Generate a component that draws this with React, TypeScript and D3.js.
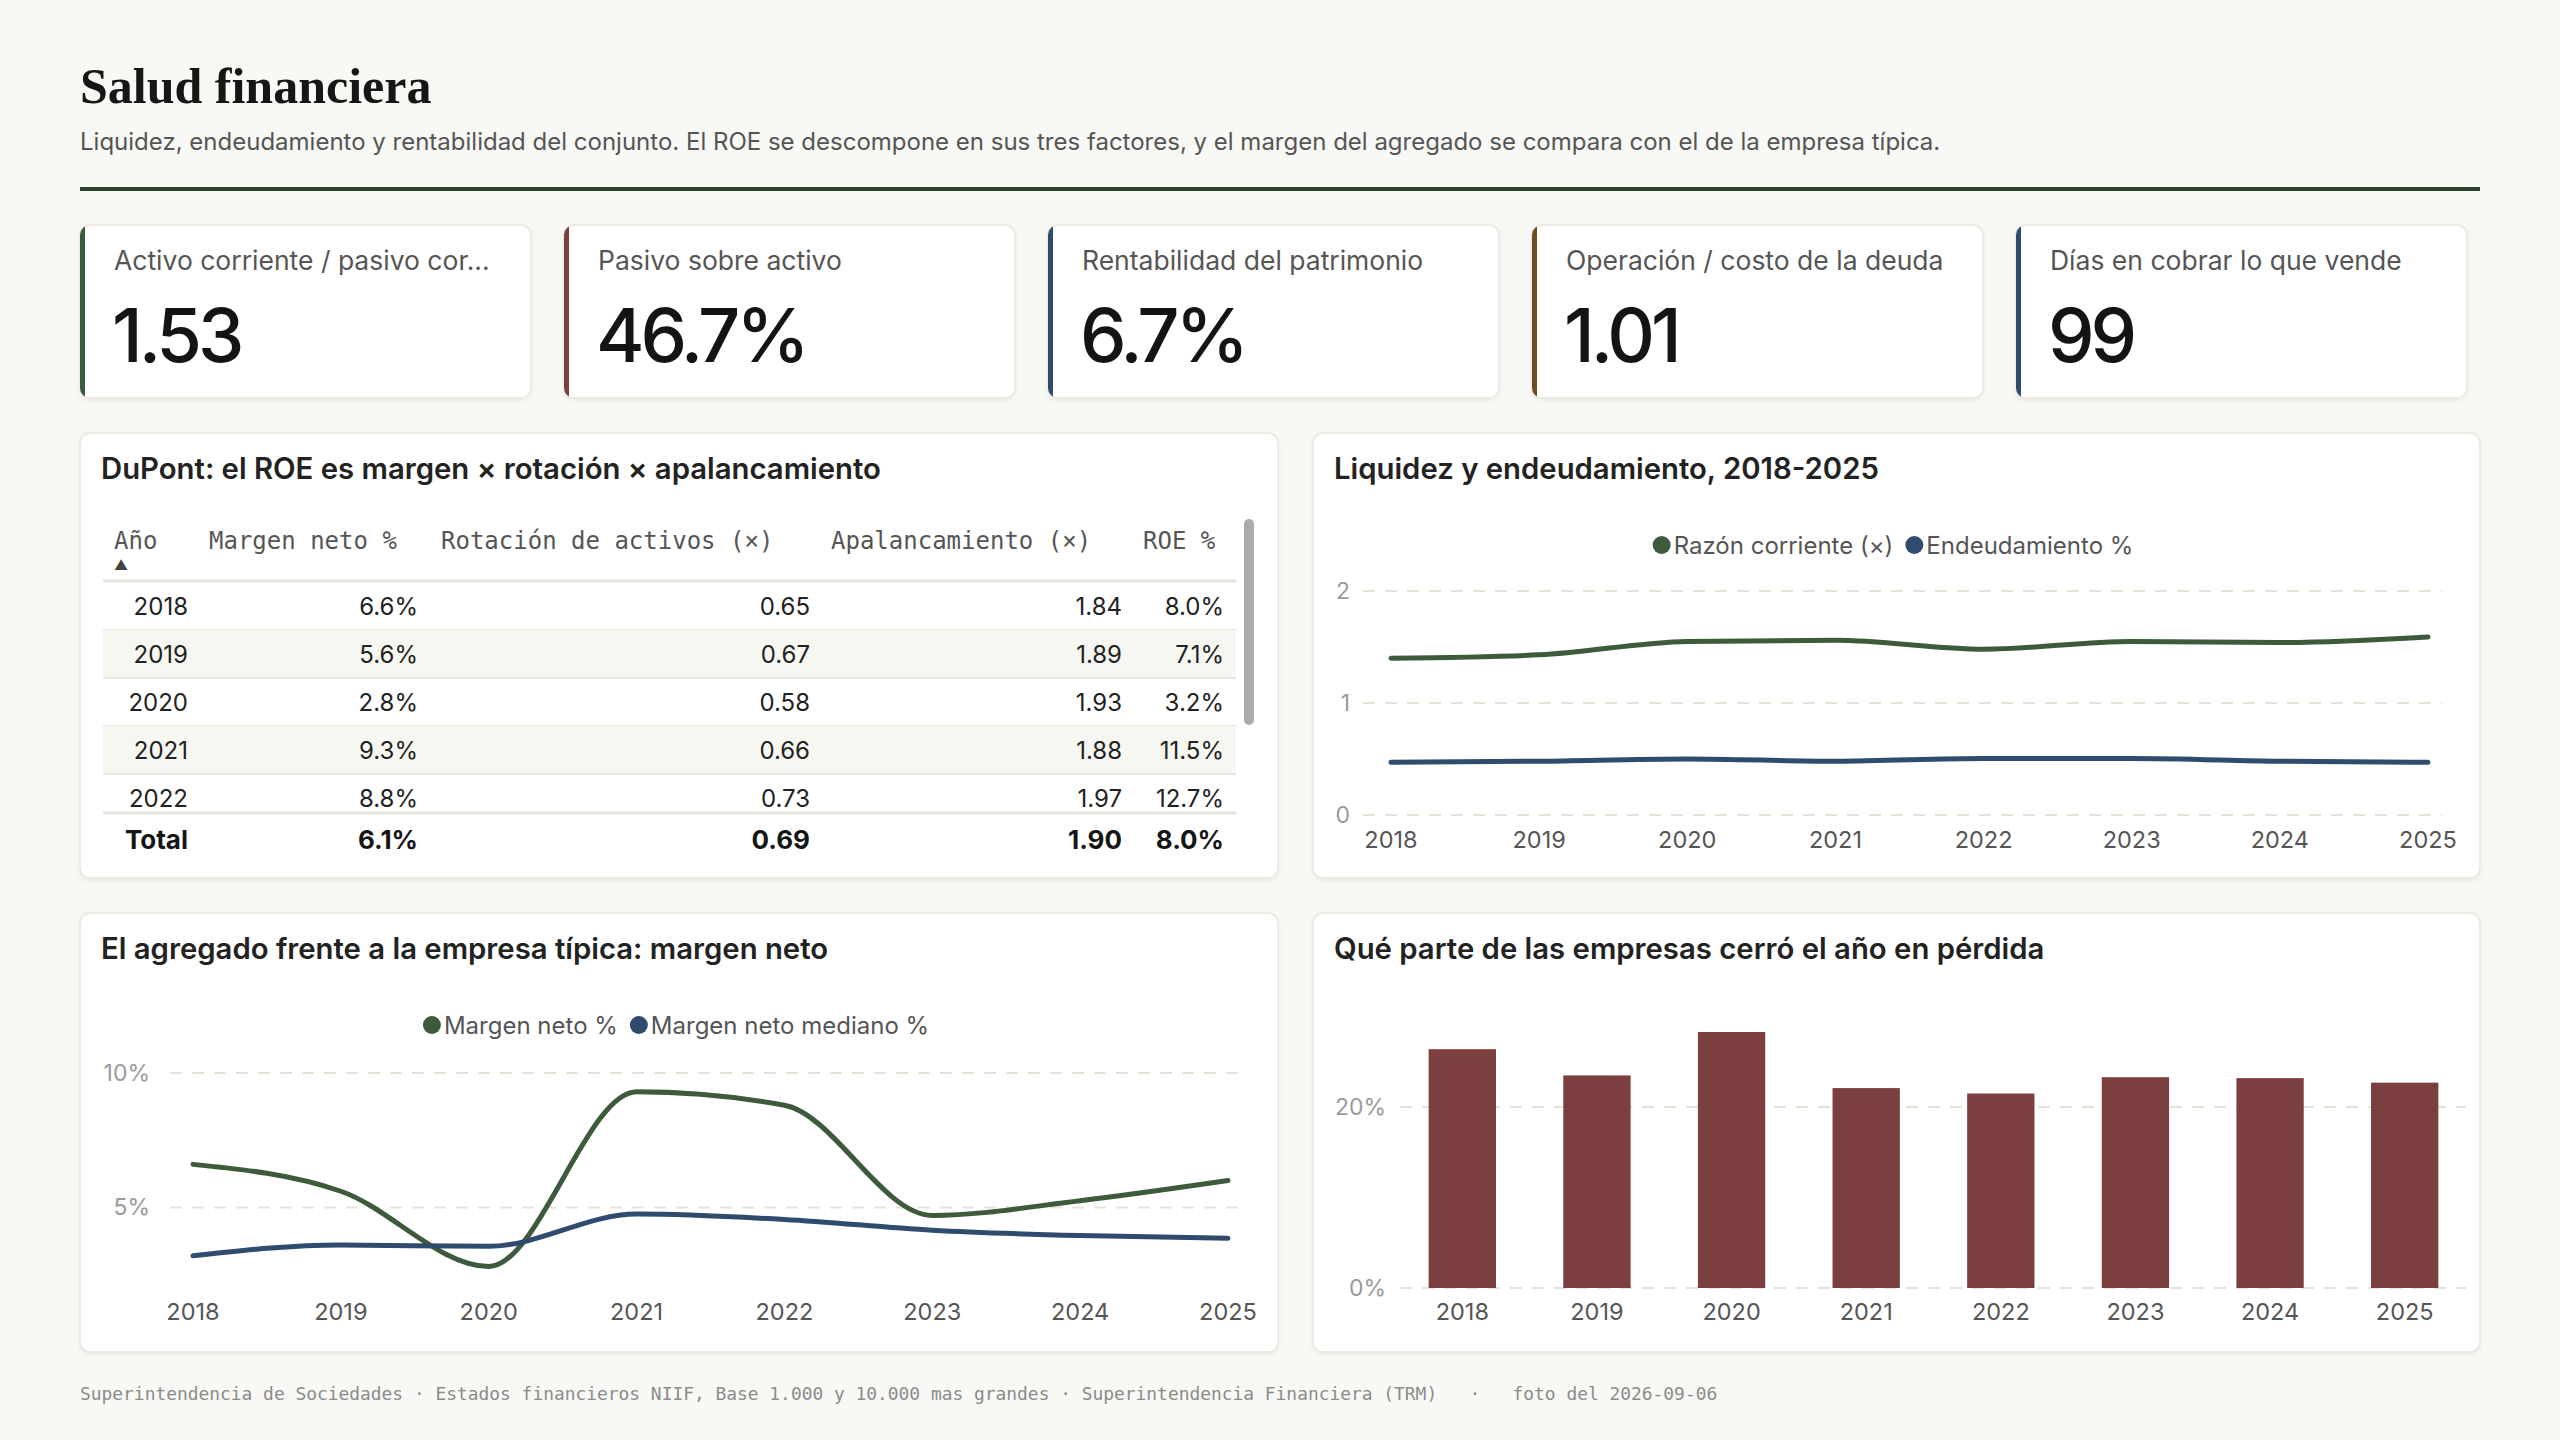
import React, { useEffect, useRef } from 'react';
import * as d3 from 'd3';

// --- data -------------------------------------------------------------
const years = ['2018', '2019', '2020', '2021', '2022', '2023', '2024', '2025'];

const kpiLabels = [
  'Activo corriente / pasivo corriente',
  'Pasivo sobre activo',
  'Rentabilidad del patrimonio',
  'Operación / costo de la deuda',
  'Días en cobrar lo que vende',
];
const kpiValues = ['1.53', '46.7%', '6.7%', '1.01', '99'];

const tableHeaders = ['Año', 'Margen neto %', 'Rotación de activos (×)', 'Apalancamiento (×)', 'ROE %'];
const tableYears = ['2018', '2019', '2020', '2021', '2022'];
const tableMargin = [6.6, 5.6, 2.8, 9.3, 8.8];
const tableRotation = [0.65, 0.67, 0.58, 0.66, 0.73];
const tableLeverage = [1.84, 1.89, 1.93, 1.88, 1.97];
const tableRoe = [8.0, 7.1, 3.2, 11.5, 12.7];
const tableTotal = [6.1, 0.69, 1.9, 8.0];

const currentRatio = [1.4, 1.43, 1.55, 1.56, 1.48, 1.55, 1.54, 1.59];
const debtRatio = [0.47, 0.48, 0.5, 0.48, 0.505, 0.505, 0.48, 0.47];

const netMargin = [6.6, 5.6, 2.8, 9.3, 8.8, 4.7, 5.25, 6.0];
const medianMargin = [3.2, 3.6, 3.55, 4.75, 4.55, 4.15, 3.95, 3.85];

const lossShare = [26.4, 23.5, 28.3, 22.1, 21.5, 23.3, 23.2, 22.7];

// --- style -------------------------------------------------------------
const BG = '#f8f8f4';
const GREEN = '#3d5a3c';
const NAVY = '#2f4b6e';
const MAROON = '#7b3f3f';
const BROWN = '#6e4b24';
const kpiAccents = [GREEN, MAROON, NAVY, BROWN, NAVY];
const SANS = "Inter, 'Noto Sans', sans-serif";
const MONO = "'DejaVu Sans Mono', monospace";
const SERIF = "'Liberation Serif', serif";
const GRID = '#e6e2d6';

const pct1 = (v: number) => d3.format('.1f')(v) + '%';
const fix2 = d3.format('.2f');

const App: React.FC = () => {
  const ref = useRef<SVGSVGElement>(null);

  useEffect(() => {
    if (!ref.current) return;
    const svg = d3.select(ref.current);
    svg.selectAll('*').remove();

    const defs = svg.append('defs');
    const f = defs.append('filter').attr('id', 'shadow').attr('x', '-5%').attr('y', '-5%').attr('width', '110%').attr('height', '115%');
    f.append('feDropShadow').attr('dx', 0).attr('dy', 2).attr('stdDeviation', 2).attr('flood-color', '#000').attr('flood-opacity', 0.06);

    let clipN = 0;
    const card = (x: number, y: number, w: number, h: number, accent?: string) => {
      svg.append('rect')
        .attr('x', x).attr('y', y).attr('width', w).attr('height', h)
        .attr('rx', 10).attr('fill', '#fff')
        .attr('stroke', '#e9e6dd').attr('stroke-width', 1.5)
        .attr('filter', 'url(#shadow)');
      if (accent) {
        const id = `cardclip${clipN++}`;
        defs.append('clipPath').attr('id', id)
          .append('rect').attr('x', x).attr('y', y).attr('width', w).attr('height', h).attr('rx', 10);
        svg.append('rect')
          .attr('x', x).attr('y', y).attr('width', 5).attr('height', h)
          .attr('fill', accent).attr('clip-path', `url(#${id})`);
      }
    };

    // header
    svg.append('text').attr('x', 80).attr('y', 103)
      .style('font-family', SERIF).style('font-size', '50px').style('font-weight', 700)
      .attr('fill', '#161616').text('Salud financiera');
    svg.append('text').attr('x', 80).attr('y', 150)
      .style('font-family', SANS).style('font-size', '24px')
      .attr('fill', '#555').text('Liquidez, endeudamiento y rentabilidad del conjunto. El ROE se descompone en sus tres factores, y el margen del agregado se compara con el de la empresa típica.');
    svg.append('rect').attr('x', 80).attr('y', 187).attr('width', 2400).attr('height', 4).attr('fill', '#2f4430');

    // KPI cards
    const kW = 451, kStep = 484, kY = 225, kH = 173;
    kpiLabels.forEach((label, i) => {
      const x = 80 + i * kStep;
      card(x, kY, kW, kH, kpiAccents[i]);
      const t = svg.append('text').attr('x', x + 34).attr('y', 270)
        .style('font-family', SANS).style('font-size', '26.5px').attr('fill', '#555').text(label);
      const maxW = 382;
      const node = t.node() as SVGTextElement;
      if (node.getComputedTextLength() > maxW) {
        let s = label;
        while (s.length > 1) {
          s = s.slice(0, -1);
          t.text(s.trimEnd() + '...');
          if (node.getComputedTextLength() <= maxW) break;
        }
      }
      svg.append('text').attr('x', x + 32).attr('y', 362)
        .style('font-family', SANS).style('font-size', '74px').style('font-weight', 500)
        .style('letter-spacing', '-4px')
        .attr('fill', '#141414').text(kpiValues[i]);
    });

    // panels
    const panels = [
      { x: 80, y: 433, w: 1198, h: 445, title: 'DuPont: el ROE es margen × rotación × apalancamiento' },
      { x: 1313, y: 433, w: 1167, h: 445, title: 'Liquidez y endeudamiento, 2018-2025' },
      { x: 80, y: 913, w: 1198, h: 439, title: 'El agregado frente a la empresa típica: margen neto' },
      { x: 1313, y: 913, w: 1167, h: 439, title: 'Qué parte de las empresas cerró el año en pérdida' },
    ];
    panels.forEach(p => {
      card(p.x, p.y, p.w, p.h);
      svg.append('text').attr('x', p.x + 21).attr('y', p.y + 46)
        .style('font-family', SANS).style('font-size', '29.3px').style('font-weight', 600)
        .attr('fill', '#222').text(p.title);
    });

    // legend helper, centred on cx
    const legend = (cx: number, y: number, items: { label: string; color: string }[]) => {
      const g = svg.append('g');
      let off = 0;
      items.forEach((it, i) => {
        if (i > 0) off += 12;
        g.append('circle').attr('cx', off + 9).attr('cy', y).attr('r', 9).attr('fill', it.color);
        const t = g.append('text').attr('x', off + 21).attr('y', y).attr('dominant-baseline', 'central')
          .style('font-family', SANS).style('font-size', '24px').attr('fill', '#555').text(it.label);
        off += 21 + (t.node() as SVGTextElement).getComputedTextLength();
      });
      g.attr('transform', `translate(${cx - off / 2},0)`);
    };

    // --- DuPont table
    const hx = [114, 209, 441, 831, 1143];
    const vr = [188, 418, 810, 1122, 1224];
    const tL = 103, tR = 1236;
    tableHeaders.forEach((h, i) => {
      svg.append('text').attr('x', hx[i]).attr('y', 541).attr('dominant-baseline', 'central')
        .style('font-family', MONO).style('font-size', '24px').attr('fill', '#555').text(h);
    });
    svg.append('text').attr('x', 121).attr('y', 564).attr('text-anchor', 'middle').attr('dominant-baseline', 'central')
      .style('font-family', SANS).style('font-size', '14px').attr('fill', '#444').text('▲');
    svg.append('line').attr('x1', tL).attr('x2', tR).attr('y1', 581).attr('y2', 581).attr('stroke', '#e6e3da').attr('stroke-width', 3);

    defs.append('clipPath').attr('id', 'tbody').append('rect').attr('x', tL).attr('y', 582).attr('width', tR - tL).attr('height', 230);
    const body = svg.append('g').attr('clip-path', 'url(#tbody)');
    const rowH = 48;
    tableYears.forEach((yr, i) => {
      const y0 = 582 + i * rowH;
      if (i % 2 === 1) body.append('rect').attr('x', tL).attr('y', y0).attr('width', tR - tL).attr('height', rowH).attr('fill', '#f7f7f2');
      body.append('line').attr('x1', tL).attr('x2', tR).attr('y1', y0 + rowH).attr('y2', y0 + rowH).attr('stroke', '#ebe8e0').attr('stroke-width', 2);
      const cells = [yr, pct1(tableMargin[i]), fix2(tableRotation[i]), fix2(tableLeverage[i]), pct1(tableRoe[i])];
      cells.forEach((c, j) => {
        body.append('text').attr('x', vr[j]).attr('y', y0 + rowH / 2).attr('text-anchor', 'end').attr('dominant-baseline', 'central')
          .style('font-family', SANS).style('font-size', '24px').attr('fill', '#222').text(c);
      });
    });
    svg.append('line').attr('x1', tL).attr('x2', tR).attr('y1', 813).attr('y2', 813).attr('stroke', '#e6e3da').attr('stroke-width', 3);
    const totals = ['Total', pct1(tableTotal[0]), fix2(tableTotal[1]), fix2(tableTotal[2]), pct1(tableTotal[3])];
    totals.forEach((c, j) => {
      svg.append('text').attr('x', vr[j]).attr('y', 839).attr('text-anchor', 'end').attr('dominant-baseline', 'central')
        .style('font-family', SANS).style('font-size', '26px').style('font-weight', 700).attr('fill', '#151515').text(c);
    });
    svg.append('rect').attr('x', 1244).attr('y', 519).attr('width', 10).attr('height', 206).attr('rx', 5).attr('fill', '#ababab');

    // --- Liquidez y endeudamiento
    {
      const x = d3.scalePoint<string>().domain(years).range([1391, 2428]);
      const y = d3.scaleLinear().domain([0, 2]).range([815, 591]);
      legend(1893, 545, [
        { label: 'Razón corriente (×)', color: GREEN },
        { label: 'Endeudamiento %', color: NAVY },
      ]);
      [0, 1, 2].forEach(t => {
        svg.append('line').attr('x1', 1363).attr('x2', 2442).attr('y1', y(t)).attr('y2', y(t))
          .attr('stroke', GRID).attr('stroke-width', 2).attr('stroke-dasharray', '12,10');
        svg.append('text').attr('x', 1350).attr('y', y(t)).attr('text-anchor', 'end').attr('dominant-baseline', 'central')
          .style('font-family', SANS).style('font-size', '23px').attr('fill', '#9a9a9a').text(t);
      });
      years.forEach(yr => {
        svg.append('text').attr('x', x(yr)!).attr('y', 839).attr('text-anchor', 'middle').attr('dominant-baseline', 'central')
          .style('font-family', SANS).style('font-size', '23.5px').attr('fill', '#555').text(yr);
      });
      const line = d3.line<number>().x((_, i) => x(years[i])!).y(d => y(d)).curve(d3.curveMonotoneX);
      svg.append('path').attr('d', line(currentRatio)!).attr('fill', 'none').attr('stroke', GREEN).attr('stroke-width', 5).attr('stroke-linecap', 'round');
      svg.append('path').attr('d', line(debtRatio)!).attr('fill', 'none').attr('stroke', NAVY).attr('stroke-width', 5).attr('stroke-linecap', 'round');
    }

    // --- Margen neto vs mediano
    {
      const x = d3.scalePoint<string>().domain(years).range([193, 1228]);
      const y = d3.scaleLinear().domain([2, 10]).range([1288, 1073]);
      legend(676, 1025, [
        { label: 'Margen neto %', color: GREEN },
        { label: 'Margen neto mediano %', color: NAVY },
      ]);
      [5, 10].forEach(t => {
        svg.append('line').attr('x1', 170).attr('x2', 1244).attr('y1', y(t)).attr('y2', y(t))
          .attr('stroke', GRID).attr('stroke-width', 2).attr('stroke-dasharray', '12,10');
        svg.append('text').attr('x', 150).attr('y', y(t)).attr('text-anchor', 'end').attr('dominant-baseline', 'central')
          .style('font-family', SANS).style('font-size', '23px').attr('fill', '#9a9a9a').text(`${t}%`);
      });
      years.forEach(yr => {
        svg.append('text').attr('x', x(yr)!).attr('y', 1311).attr('text-anchor', 'middle').attr('dominant-baseline', 'central')
          .style('font-family', SANS).style('font-size', '23.5px').attr('fill', '#555').text(yr);
      });
      const line = d3.line<number>().x((_, i) => x(years[i])!).y(d => y(d)).curve(d3.curveMonotoneX);
      svg.append('path').attr('d', line(netMargin)!).attr('fill', 'none').attr('stroke', GREEN).attr('stroke-width', 5).attr('stroke-linecap', 'round');
      svg.append('path').attr('d', line(medianMargin)!).attr('fill', 'none').attr('stroke', NAVY).attr('stroke-width', 5).attr('stroke-linecap', 'round');
    }

    // --- Empresas en pérdida
    {
      const x = d3.scaleBand<string>().domain(years).range([1395, 2472]).paddingInner(0.5).paddingOuter(0.25);
      const y = d3.scaleLinear().domain([0, d3.max(lossShare)!]).range([1288, 1032]);
      [0, 20].forEach(t => {
        svg.append('line').attr('x1', 1400).attr('x2', 2466).attr('y1', y(t)).attr('y2', y(t))
          .attr('stroke', GRID).attr('stroke-width', 2).attr('stroke-dasharray', '12,10');
        svg.append('text').attr('x', 1386).attr('y', y(t)).attr('text-anchor', 'end').attr('dominant-baseline', 'central')
          .style('font-family', SANS).style('font-size', '23px').attr('fill', '#9a9a9a').text(`${t}%`);
      });
      svg.append('g').selectAll('rect').data(lossShare).join('rect')
        .attr('x', (_, i) => x(years[i])!)
        .attr('y', d => y(d))
        .attr('width', x.bandwidth())
        .attr('height', d => y(0) - y(d))
        .attr('fill', MAROON);
      years.forEach(yr => {
        svg.append('text').attr('x', x(yr)! + x.bandwidth() / 2).attr('y', 1311).attr('text-anchor', 'middle').attr('dominant-baseline', 'central')
          .style('font-family', SANS).style('font-size', '23.5px').attr('fill', '#555').text(yr);
      });
    }

    // footer
    svg.append('text').attr('x', 80).attr('y', 1393).attr('dominant-baseline', 'central')
      .style('font-family', MONO).style('font-size', '17.9px').style('white-space', 'pre').attr('fill', '#8b8b8b')
      .text('Superintendencia de Sociedades · Estados financieros NIIF, Base 1.000 y 10.000 mas grandes · Superintendencia Financiera (TRM)   ·   foto del 2026-09-06');
  }, []);

  return (
    <div style={{ position: 'fixed', inset: 0, background: BG }}>
      <svg ref={ref} width={2560} height={1440} style={{ display: 'block' }} />
    </div>
  );
};

export default App;
